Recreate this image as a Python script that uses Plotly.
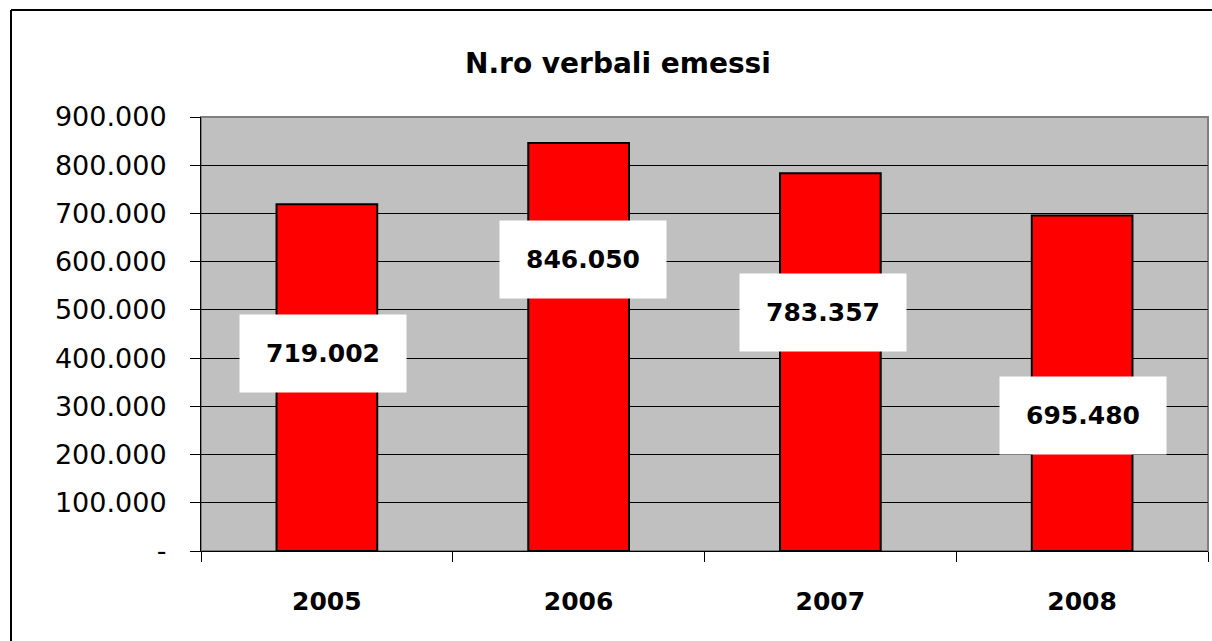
import plotly.graph_objects as go

years = ["2005", "2006", "2007", "2008"]
verbali = [719002, 846050, 783357, 695480]
value_labels = ["719.002", "846.050", "783.357", "695.480"]
y_tick_vals = [0, 100000, 200000, 300000, 400000, 500000, 600000, 700000, 800000, 900000]
y_tick_text = ["-", "100.000", "200.000", "300.000", "400.000", "500.000",
               "600.000", "700.000", "800.000", "900.000"]
title_text = "N.ro verbali emessi"

# label placement (layout, data units)
label_y = [409500, 604500, 494600, 280000]
label_dx = [-4, 4, -7, 1]

BF = "DejaVu Sans"

# plot area target: x 201..1208, y 117..551
W, H = 1212, 641
ML, MR, MT, MB = 201, 4, 117, 90
PW = W - ML - MR
PH = H - MT - MB


def px_x(x):
    return (x - ML) / PW


def px_y(y):
    return (MT + PH - y) / PH


fig = go.Figure()
fig.add_trace(go.Bar(
    x=years, y=verbali, width=0.4,
    marker=dict(color="#FF0000", line=dict(color="#000000", width=2)),
    hoverinfo="skip",
))

for i, (lbl, ly, dx) in enumerate(zip(value_labels, label_y, label_dx)):
    fig.add_annotation(
        x=i, y=ly, text="<b>" + lbl + "</b>", showarrow=False, xshift=dx,
        font=dict(family=BF, size=25, color="#000000"),
        bgcolor="#FFFFFF", width=166, height=77, borderpad=0,
        xanchor="center", yanchor="middle",
    )

fig.add_annotation(
    x=px_x(618), y=px_y(64), xref="paper", yref="paper",
    text="<b>" + title_text + "</b>", showarrow=False,
    font=dict(family=BF, size=28, color="#000000"),
    xanchor="center", yanchor="middle",
)

# outer chart border (left and top edges visible)
fig.add_shape(type="line", xref="paper", yref="paper",
              x0=px_x(11), x1=px_x(11), y0=px_y(645), y1=px_y(10),
              line=dict(color="#000000", width=2), layer="below")
fig.add_shape(type="line", xref="paper", yref="paper",
              x0=px_x(11), x1=px_x(1215), y0=px_y(10), y1=px_y(10),
              line=dict(color="#000000", width=2), layer="below")

fig.update_layout(
    width=W, height=H,
    margin=dict(l=ML, r=MR, t=MT, b=MB),
    paper_bgcolor="#FFFFFF", plot_bgcolor="#C0C0C0",
    showlegend=False,
    xaxis=dict(
        type="category", range=[-0.5, 3.5], tickson="boundaries", ticks="outside", ticklen=10,
        tickcolor="#000000", tickwidth=1,
        showgrid=False, showline=True, linecolor="#000000", linewidth=1,
        tickfont=dict(family=BF, size=25, color="#000000"),
        ticklabelstandoff=28, tickangle=0,
        tickprefix="<b>", ticksuffix="</b>",
    ),
    yaxis=dict(
        range=[0, 900000], tickvals=y_tick_vals, ticktext=y_tick_text,
        ticks="outside", ticklen=10, tickcolor="#000000", tickwidth=1,
        showgrid=True, gridcolor="#000000", gridwidth=1,
        showline=True, linecolor="#000000", linewidth=1,
        tickfont=dict(family=BF, size=27, color="#000000"),
        ticklabelstandoff=18, zeroline=False,
    ),
)
# plot area border (grey)
fig.add_shape(type="rect", xref="paper", yref="paper", x0=0, x1=1, y0=0, y1=1,
              line=dict(color="#808080", width=2), fillcolor="rgba(0,0,0,0)", layer="below")

fig.write_html("out.html", config={"displayModeBar": False},
               post_script="document.body.style.margin='0';document.body.style.overflow='hidden';")
